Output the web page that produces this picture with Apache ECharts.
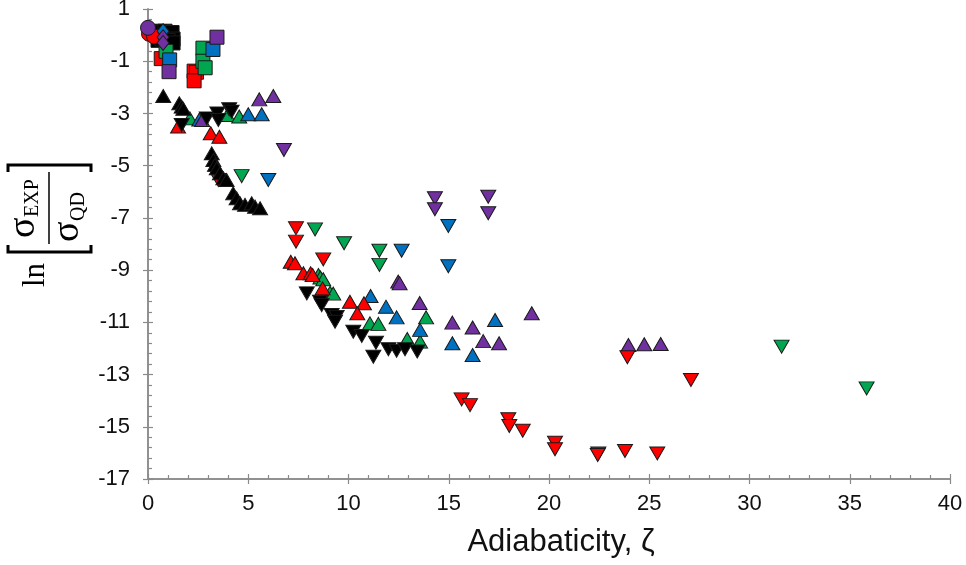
<!DOCTYPE html>
<html>
<head>
<meta charset="utf-8">
<script src="https://cdn.jsdelivr.net/npm/echarts@6/dist/echarts.min.js"></script>
<style>
  html, body { margin: 0; padding: 0; background: #fff; }
  #chart { width: 966px; height: 565px; }
</style>
</head>
<body>
<div id="chart"></div>
<script>
// Axis ranges and ticks
const xTicks = [0, 5, 10, 15, 20, 25, 30, 35, 40];
const yTicks = [1, -1, -3, -5, -7, -9, -11, -13, -15, -17];

// Measurements: [adiabaticity ζ, ln(σEXP/σQD)]
const blackSquares = [[0.45, 0.15], [0.5, -0.2], [0.6, 0.12], [0.85, 0.15], [1.2, 0.1], [1.25, -0.15], [0.7, -0.15], [1.0, -0.2], [1.25, -0.3]];
const redCircles = [[0.05, 0.05], [0.3, -0.05]];
const purpleCircles = [[0.0, 0.28]];
const redSquares = [[0.66, -0.9], [2.3, -1.38], [2.42, -1.42], [2.3, -1.75]];
const greenSquares = [[0.9, -0.62], [2.74, -0.5], [2.74, -1.0], [2.85, -1.25]];
const blueSquares = [[1.08, -0.95], [3.24, -0.55]];
const purpleSquares = [[1.05, -1.4], [3.44, -0.08]];
const blueDiamonds = [[0.75, 0.15]];
const purpleDiamonds = [[0.75, -0.08], [0.75, -0.3]];

const redUp = [[1.5, -3.5], [3.13, -3.76], [3.56, -3.89], [7.12, -8.68], [7.33, -8.74], [7.75, -9.12], [8.11, -9.12], [8.21, -9.19], [8.71, -9.7], [10.07, -10.21], [10.77, -10.27], [10.44, -10.65]];
const redDown = [[3.51, -5.55], [7.38, -7.4], [7.38, -7.91], [8.74, -8.59], [15.64, -13.95], [16.06, -14.17], [17.97, -14.71], [18.02, -14.97], [18.69, -15.15], [20.3, -15.61], [20.3, -15.86], [22.46, -16.02], [22.43, -16.08], [23.79, -15.93], [25.4, -16.02], [23.91, -12.34], [27.08, -13.21]];
const greenUp = [[2.09, -3.19], [3.96, -3.06], [4.55, -3.12], [8.5, -9.19], [8.6, -9.28], [8.74, -9.35], [9.08, -9.87], [9.24, -9.9], [11.07, -11.04], [11.49, -11.06], [13.87, -10.81], [12.93, -11.64], [13.57, -11.74]];
const greenDown = [[4.67, -5.4], [8.33, -7.44], [9.78, -7.97], [11.54, -8.26], [11.54, -8.8], [31.6, -11.93], [35.84, -13.53]];
const blueUp = [[2.56, -3.23], [5.0, -3.03], [5.67, -3.03], [11.1, -9.99], [11.87, -10.4], [12.4, -10.81], [13.57, -11.29], [15.18, -11.8], [16.19, -12.25], [17.31, -10.91]];
const blueDown = [[6.0, -5.55], [12.65, -8.26], [14.98, -7.31], [14.98, -8.85]];
const purpleUp = [[2.7, -3.25], [5.55, -2.46], [6.25, -2.33], [12.48, -9.44], [12.55, -9.5], [13.55, -10.26], [15.18, -11.01], [16.19, -11.2], [16.72, -11.72], [17.51, -11.8], [19.14, -10.65], [23.96, -11.87], [24.75, -11.84], [25.57, -11.83]];
const purpleDown = [[6.78, -4.4], [14.31, -6.25], [14.31, -6.67], [16.97, -6.19], [16.97, -6.82]];
const blackUp = [[0.76, -2.33], [1.56, -2.61], [1.68, -2.74], [1.76, -2.82], [3.18, -4.53], [3.26, -4.78], [3.34, -4.97], [3.43, -5.1], [3.59, -5.29], [3.76, -5.48], [3.92, -5.55], [4.25, -6.06], [4.42, -6.25], [4.59, -6.44], [4.84, -6.5], [5.17, -6.44], [5.34, -6.57], [5.59, -6.63]];
const blackDown = [[1.68, -3.44], [2.93, -3.19], [3.46, -3.0], [3.51, -3.25], [4.05, -2.84], [4.17, -2.93], [7.92, -9.89], [8.58, -10.21], [8.66, -10.34], [9.16, -10.72], [9.41, -10.79], [9.33, -10.98], [10.24, -11.36], [10.66, -11.52], [11.37, -11.78], [11.24, -12.32], [11.99, -12.03], [12.4, -12.09], [12.82, -12.03], [13.43, -12.12]];

const RED = '#ff0000', GREEN = '#00a650', BLUE = '#0070c0', PURPLE = '#7030a0', BLACK = '#000000';
const AXIS_GREY = '#8a8a8a';
const LABEL_FONT = "'Liberation Sans Narrow', 'Arial Narrow', 'Liberation Sans', sans-serif";
const MATH_FONT = "'Liberation Serif', 'DejaVu Serif', serif";

function scatter(data, color, symbol, size, rotate) {
  return {
    type: 'scatter',
    data: data,
    symbol: symbol,
    symbolSize: size,
    symbolRotate: rotate || 0,
    itemStyle: { color: color, borderColor: '#1a1a1a', borderWidth: 1, opacity: 1 },
    emphasis: { disabled: true },
    animation: false
  };
}
const SQ = 14, CI = 15, DI = [12, 15], TRI = [15, 13];

const seriesList = [
  scatter(blackSquares, BLACK, 'rect', SQ),
  scatter(redCircles, RED, 'circle', CI),
  scatter(purpleCircles, PURPLE, 'circle', CI),
  scatter(redSquares, RED, 'rect', SQ),
  scatter(greenSquares, GREEN, 'rect', SQ),
  scatter(blueSquares, BLUE, 'rect', SQ),
  scatter(purpleSquares, PURPLE, 'rect', SQ),
  scatter(blueDiamonds, BLUE, 'diamond', DI),
  scatter(purpleDiamonds, PURPLE, 'diamond', DI),
  scatter(greenUp, GREEN, 'triangle', TRI),
  scatter(blueUp, BLUE, 'triangle', TRI),
  scatter(purpleUp, PURPLE, 'triangle', TRI),
  scatter(greenDown, GREEN, 'triangle', TRI, 180),
  scatter(blueDown, BLUE, 'triangle', TRI, 180),
  scatter(purpleDown, PURPLE, 'triangle', TRI, 180),
  scatter(redUp, RED, 'triangle', TRI),
  scatter(redDown, RED, 'triangle', TRI, 180),
  scatter(blackUp, BLACK, 'triangle', TRI),
  scatter(blackDown, BLACK, 'triangle', TRI, 180)
];

const xMin = xTicks[0], xMax = xTicks[xTicks.length - 1], xStep = xTicks[1] - xTicks[0];
const yMin = yTicks[yTicks.length - 1], yMax = yTicks[0], yStep = yTicks[0] - yTicks[1];

const axisLine = { show: true, onZero: false, lineStyle: { color: AXIS_GREY, width: 1.5 } };
const tickStyle = { color: AXIS_GREY, width: 1.2 };

const chart = echarts.init(document.getElementById('chart'), null, { renderer: 'canvas' });
chart.setOption({
  backgroundColor: '#ffffff',
  animation: false,
  grid: { left: 148, right: 16, top: 9, bottom: 86, containLabel: false, outerBoundsMode: 'none' },
  xAxis: [
    {
      type: 'value', min: xMin, max: xMax, interval: xStep, position: 'bottom',
      axisLine: axisLine,
      axisTick: { show: true, inside: false, length: 5, lineStyle: tickStyle },
      minorTick: { show: false },
      splitLine: { show: false },
      axisLabel: { color: '#111', fontFamily: LABEL_FONT, fontSize: 22, margin: 14 },
      name: 'Adiabaticity, ζ', nameLocation: 'middle', nameGap: 48,
      nameTextStyle: { color: '#111', fontFamily: LABEL_FONT, fontSize: 31, padding: [0, 0, 0, 24] }
    },
    {
      type: 'value', min: xMin, max: xMax, interval: xStep, position: 'bottom', offset: 0,
      axisLine: axisLine,
      axisTick: { show: true, inside: true, length: 5, lineStyle: tickStyle },
      minorTick: { show: true, splitNumber: 5, length: 4, lineStyle: tickStyle },
      splitLine: { show: false },
      axisLabel: { show: false }
    }
  ],
  yAxis: [
    {
      type: 'value', min: yMin, max: yMax, interval: yStep, position: 'left',
      axisLine: axisLine,
      axisTick: { show: true, inside: false, length: 5, lineStyle: tickStyle },
      minorTick: { show: false },
      splitLine: { show: false },
      axisLabel: { color: '#111', fontFamily: LABEL_FONT, fontSize: 22, margin: 18 }
    },
    {
      type: 'value', min: yMin, max: yMax, interval: yStep, position: 'left', offset: 0,
      axisLine: axisLine,
      axisTick: { show: true, inside: true, length: 5, lineStyle: tickStyle },
      minorTick: { show: true, splitNumber: 5, length: 4, lineStyle: tickStyle },
      splitLine: { show: false },
      axisLabel: { show: false }
    }
  ],
  series: seriesList,
  graphic: [
    {
      // vertical axis title: ln [ σEXP / σQD ], drawn horizontally then turned upright
      type: 'group',
      x: 49, y: 228,
      rotation: Math.PI / 2,
      silent: true,
      children: [
        { type: 'text', x: -47, y: 2, style: { text: 'ln', font: '31px ' + MATH_FONT, fill: '#000', align: 'center', verticalAlign: 'bottom' } },
        { type: 'polyline', shape: { points: [[-17, -41], [-24, -41], [-24, 42], [-17, 42]] }, style: { stroke: '#000', lineWidth: 3, fill: null } },
        { type: 'polyline', shape: { points: [[56, -41], [63, -41], [63, 42], [56, 42]] }, style: { stroke: '#000', lineWidth: 3, fill: null } },
        { type: 'line', shape: { x1: -16, y1: 0, x2: 56, y2: 0 }, style: { stroke: '#000', lineWidth: 1.5 } },
        { type: 'text', x: -10, y: -6, style: { text: 'σ', font: '38px ' + MATH_FONT, fill: '#000', align: 'left', verticalAlign: 'bottom' } },
        { type: 'text', x: 11, y: -6, style: { text: 'EXP', font: '20px ' + MATH_FONT, fill: '#000', align: 'left', verticalAlign: 'bottom' } },
        { type: 'text', x: -14, y: 38, style: { text: 'σ', font: '38px ' + MATH_FONT, fill: '#000', align: 'left', verticalAlign: 'bottom' } },
        { type: 'text', x: 7, y: 40, style: { text: 'QD', font: '20px ' + MATH_FONT, fill: '#000', align: 'left', verticalAlign: 'bottom' } }
      ]
    }
  ]
});
</script>
</body>
</html>
